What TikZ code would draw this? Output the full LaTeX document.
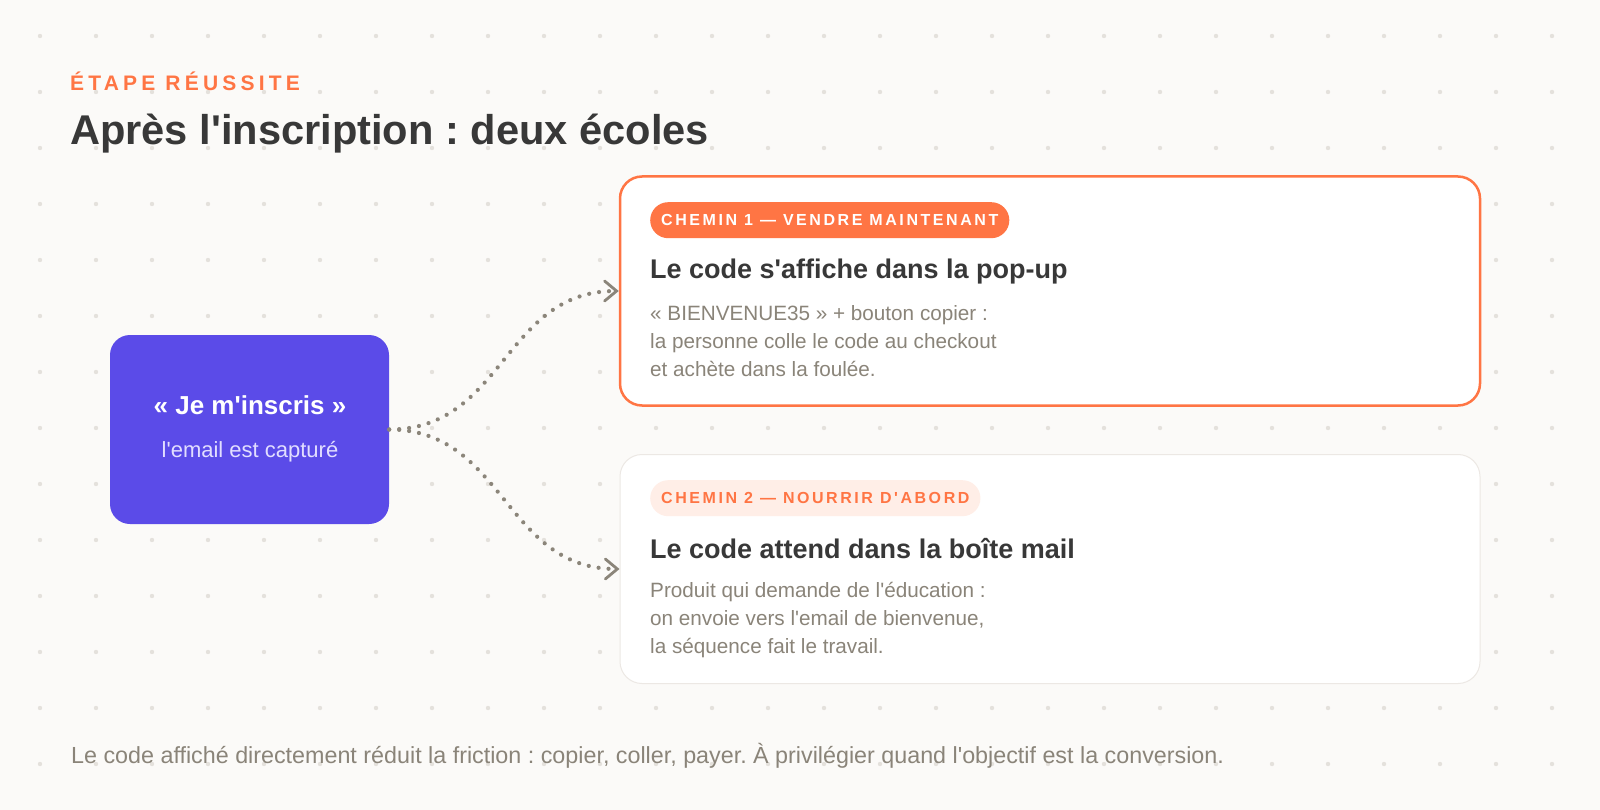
\documentclass[tikz,border=0pt]{standalone}
\usepackage{fontspec}
\usepackage{xcolor}
\usepackage{tikz}
\usetikzlibrary{arrows.meta,backgrounds,positioning}
\setmainfont{Liberation Sans}[Ligatures=TeXOff]
\newfontfamily\trackfont[LetterSpace=20,Ligatures=TeXOff]{Liberation Sans}
\newfontfamily\badgefont[LetterSpace=16,Ligatures=TeXOff]{Liberation Sans}
\frenchspacing
\definecolor{paper}{HTML}{FBFAF8}
\definecolor{dotgrey}{HTML}{E4E1DC}
\definecolor{accent}{HTML}{FF7544}
\definecolor{violet}{HTML}{5B4BE8}
\definecolor{ink}{HTML}{383838}
\definecolor{muted}{HTML}{8A8479}
\definecolor{linkgrey}{HTML}{8B857A}
\definecolor{peach}{HTML}{FFEEE7}
\definecolor{cardline}{HTML}{ECE8E4}
\definecolor{lavender}{HTML}{E2DEFF}
\tikzset{
  flowBox/.style={fill=violet, rounded corners=20pt, minimum width=279pt, minimum height=189pt, inner sep=0pt},
  flowCard/.style={fill=white, rounded corners=22pt, minimum width=860pt, minimum height=229pt, inner sep=0pt},
  flowBadge/.style={rounded corners=18pt, minimum height=36pt, inner xsep=11pt, inner ysep=0pt, anchor=north west,
    font=\badgefont\bfseries\fontsize{16}{18}\selectfont},
  flowTitle/.style={text=ink, anchor=base west, inner sep=0pt, font=\bfseries\fontsize{27}{30}\selectfont},
  flowText/.style={text=muted, anchor=base west, inner sep=0pt, font=\fontsize{20.7}{26}\selectfont},
  flowLink/.style={draw=linkgrey, line width=4.2pt, line cap=round, dash pattern=on 0pt off 10pt,
    -{Straight Barb[length=12pt, width=20pt, line width=2.8pt, line cap=round]}}
}

\begin{document}
\begin{tikzpicture}[x=1pt, y=-1pt]
  \useasboundingbox (0,0) rectangle (1600,810);
  \fill[paper] (0,0) rectangle (1600,810);
  \foreach \i in {0,...,27}
    \foreach \j in {0,...,13}
      \fill[dotgrey] (40+56*\i, 36+56*\j) circle (2.2pt);

  \node[text=accent, anchor=base west, inner sep=0pt, font=\trackfont\bfseries\fontsize{21}{24}\selectfont]
    (kicker) at (70,91) {ÉTAPE RÉUSSITE};
  \node[text=ink, anchor=base west, inner sep=0pt, font=\bfseries\fontsize{41.6}{48}\selectfont]
    (heading) at (70,145) {Après l'inscription : deux écoles};

  % left box
  \node[flowBox] (signup) at (249.5,429.5) {};
  \node[text=white, inner sep=0pt, anchor=base, font=\bfseries\fontsize{26}{30}\selectfont]
    (signupTitle) at (250,414) {« Je m'inscris »};
  \node[text=lavender, inner sep=0pt, anchor=base, font=\fontsize{22}{26}\selectfont]
    (signupText) at (250,457) {l'email est capturé};

  % path 1
  \node[flowCard, draw=accent, line width=2.5pt] (cardA) at (1050,291) {};
  \node[flowBadge, fill=accent, text=white] (badgeA) at (650,202) {CHEMIN 1 — VENDRE MAINTENANT};
  \node[flowTitle] (titleA) at (650,279) {Le code s'affiche dans la pop-up};
  \node[flowText] (textA1) at (650,320) {« BIENVENUE35 » + bouton copier :};
  \node[flowText] (textA2) at (650,348) {la personne colle le code au checkout};
  \node[flowText] (textA3) at (650,376) {et achète dans la foulée.};

  % path 2
  \node[flowCard, draw=cardline, line width=1pt] (cardB) at (1050,569) {};
  \node[flowBadge, fill=peach, text=accent] (badgeB) at (650,480) {CHEMIN 2 — NOURRIR D'ABORD};
  \node[flowTitle] (titleB) at (650,558) {Le code attend dans la boîte mail};
  \node[flowText] (textB1) at (650,597) {Produit qui demande de l'éducation :};
  \node[flowText] (textB2) at (650,625) {on envoie vers l'email de bienvenue,};
  \node[flowText] (textB3) at (650,653) {la séquence fait le travail.};

  \draw[flowLink] (signup.east) .. controls +(115,0) and +(-115,0) .. (cardA.west);
  \draw[flowLink] (signup.east) .. controls +(115,0) and +(-115,0) .. (cardB.west);

  \node[text=muted, anchor=base west, inner sep=0pt, font=\fontsize{23.3}{26}\selectfont] (footnote) at (71,763)
    {Le code affiché directement réduit la friction : copier, coller, payer. À privilégier quand l'objectif est la conversion.};

  \begin{pgfonlayer}{background}
    \foreach \n in {signup,cardA,cardB}
      \foreach \k in {2,4,...,16}
        \fill[black, fill opacity=0.006, rounded corners=20pt+\k pt]
          ([shift={(-\k,-\k+8)}]\n.north west) rectangle ([shift={(\k,\k+8)}]\n.south east);
  \end{pgfonlayer}
\end{tikzpicture}
\end{document}
